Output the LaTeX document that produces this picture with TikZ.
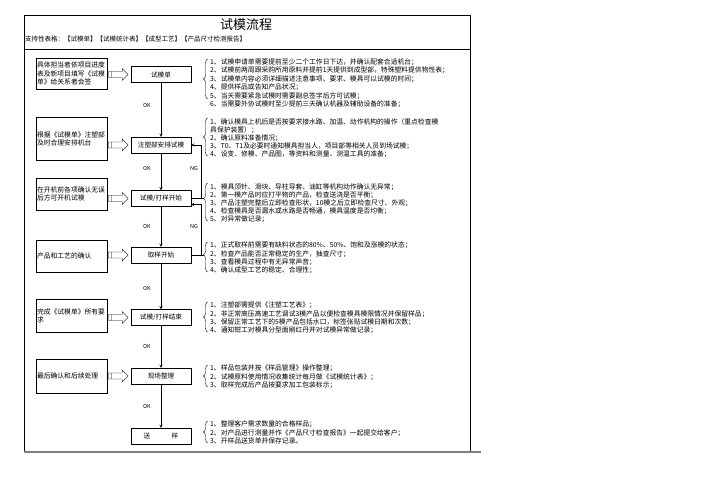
\documentclass[tikz,border=0pt]{standalone}
\usepackage{fontspec}
\newfontfamily\cjk{Noto Sans CJK SC}
\usetikzlibrary{arrows,positioning,decorations.pathreplacing,calc}

\begin{document}
\begin{tikzpicture}[
x=1pt, y=-1pt, >=stealth,
font=\cjk\fontsize{6.8}{8.2}\selectfont,
mbox/.style={draw, minimum width=60pt, minimum height=16pt, inner sep=0pt,
  font=\cjk\fontsize{6.6}{8}\selectfont},
lbox/.style={draw, text width=69pt, inner xsep=1pt, inner ysep=0pt, align=left},
note/.style={anchor=north west, align=left, inner sep=0pt},
oklbl/.style={left=10pt, inner sep=0pt, font=\cjk\fontsize{5.5}{6}\selectfont},
nglbl/.style={left=3pt, inner sep=0pt, font=\cjk\fontsize{5.5}{6}\selectfont},
curly/.style={decorate, decoration={brace, amplitude=4pt}},
hollow/.pic={\draw (0,-3) -- (14,-3) -- (14,-6) -- (20,0) -- (14,6) -- (14,3) -- (0,3) -- cycle
  (3,-3) -- (3,3);}]
    \useasboundingbox (0,0) rectangle (708,500);

    % Frame and heading
    \draw (24,452) -- (24,15) -- (470,15) -- (470,452);
    \draw (24,49) -- (470,49);
    \draw[gray, line width=1.2pt] (24,452) -- (481,452);
    \node[font=\cjk\fontsize{13}{15}\selectfont] (title) at (246,25) {试模流程};
    \node[anchor=west, inner sep=0pt, font=\cjk\fontsize{6.5}{8}\selectfont] (support) at (25,39)
        {支持性表格：【试模单】【试模统计表】【成型工艺】【产品尺寸检测报告】};

    % Main steps
    \node[mbox] (slip) at (161,74.5) {试模单};
    \node[mbox] (arrange) at (161,145) {注塑部安排试模};
    \node[mbox] (trial) at (161,198.5) {试模/打样开始};
    \node[mbox] (sample) at (161,255) {取样开始};
    \node[mbox] (finish) at (161,317.5) {试模/打样结束};
    \node[mbox] (tidy) at (161,376) {现场整理};
    \node[mbox] (send) at (161,436) {送\hspace{21.4pt}样\hspace{12pt}};

    % Left side remarks
    \node[lbox, minimum height=31pt] (who) at (71.5,73.5)
        {具体担当者依项目进度\\表及新项目填写《试模\\单》给关系者会签};
    \node[lbox, minimum height=43pt] (plan) at (71.5,138.5)
        {根据《试模单》注塑部\\及时合理安排机台};
    \node[lbox, minimum height=32pt] (check) at (71.5,194)
        {在开机前各项确认无误\\后方可开机试模};
    \node[lbox, minimum height=32pt] (confirm) at (71.5,256)
        {产品和工艺的确认};
    \node[lbox, minimum height=33pt] (done) at (71.5,315.5)
        {完成《试模单》所有要\\求};
    \node[lbox, minimum height=34pt] (follow) at (71.5,376)
        {最后确认和后续处理};

    \pic at ($(who.east |- slip.west)+(1,0)$) {hollow};
    \pic at ($(plan.east |- arrange.west)+(1,0)$) {hollow};
    \pic at ($(check.east |- trial.west)+(1,0)$) {hollow};
    \pic at ($(confirm.east |- sample.west)+(1,0)$) {hollow};
    \pic at ($(done.east |- finish.west)+(1,0)$) {hollow};
    \pic at ($(follow.east |- tidy.west)+(1,0)$) {hollow};

    % Flow
    \draw[->] (slip) -- node[oklbl, pos=0.42] (ok1) {OK} (arrange);
    \draw[->] (arrange) -- node[oklbl, pos=0.4] (ok2) {OK} (trial);
    \draw[->] (trial) -- node[oklbl, pos=0.49] (ok3) {OK} (sample);
    \draw[->] (sample) -- node[oklbl, pos=0.55] (ok4) {OK} (finish);
    \draw[->] (finish) -- node[oklbl, pos=0.5] (ok5) {OK} (tidy);
    \draw[->] (tidy) -- node[oklbl, pos=0.52] (ok6) {OK} (send);

    \coordinate (tip3) at (203.5,198.5);
    \coordinate (tip4) at (203.5,255);
    \draw (trial.east) -- (tip3);
    \draw (sample.east) -- (tip4);
    \draw[->] (trial.east) -- ++(10,0) |- node[nglbl, pos=0.28] (ng1) {NG} (arrange.east);
    \draw[->] (sample.east) -- ++(10,0) |- node[nglbl, pos=0.28] (ng2) {NG} ($(trial.east)+(0,6)$);

    % Notes
    \draw[curly] (207.5,99) -- (207.5,59);
    \node[note, font=\cjk\fontsize{6.8}{8.5}\selectfont] (n1) at (210,58.5)
        {1、试模申请单需要提前至少二个工作日下达，并确认配套合适机台；\\
         2、试模前两周跟采购所用原料并提前1天提供到成型部，特殊塑料提供物性表；\\
         3、试模单内容必须详细描述注意事项、要求、模具可以试模的时间；\\
         4、提供样品或告知产品状况；\\
         5、当天需要紧急试模时需要副总签字后方可试模；\\
         6、当需要外协试模时至少提前三天确认机器及辅助设备的准备；};

    \draw[curly] (207.5,156) -- (207.5,118);
    \node[note] (n2) at (210,118)
        {1、确认模具上机后是否按要求接水路、加温、动作机构的操作（重点检查模\\
         具保护装置）；\\
         2、确认原料准备情况；\\
         3、T0、T1及必要时通知模具担当人，项目部等相关人员到场试模；\\
         4、设变、修模、产品图，等资料和测量、测温工具的准备；};

    \draw[curly, decoration={aspect=0.59}] (207.5,221) -- (207.5,183);
    \node[note] (n3) at (210,183)
        {1、模具顶针、滑块、导柱导套、油缸等机构动作确认无异常；\\
         2、第一模产品时应打平物的产品，检查送浇是否平衡；\\
         3、产品注塑完整后立即检查形状，10模之后立即检查尺寸、外观；\\
         4、检查模具是否漏水或水路是否畅通，模具温度是否均衡；\\
         5、对异常做记录；};

    \draw[curly, decoration={aspect=0.57}] (207.5,272) -- (207.5,242);
    \node[note] (n4) at (210,242)
        {1、正式取样前需要有缺料状态的80\%、50\%、饱和及涨模的状态；\\
         2、检查产品能否正常稳定的生产，抽查尺寸；\\
         3、查看模具过程中有无异常声音；\\
         4、确认成型工艺的稳定、合理性；};

    \draw[curly] (207.5,332) -- (207.5,302);
    \node[note] (n5) at (210,302)
        {1、注塑部需提供《注塑工艺表》；\\
         2、非正常高压高速工艺调试3模产品以便检查模具模限情况并保留样品；\\
         3、保留正常工艺下的5模产品包括水口，标签张贴试模日期和次数；\\
         4、通知钳工对模具分型面刷红丹并对试模异常做记录；};

    \draw[curly] (207.5,387) -- (207.5,365);
    \node[note] (n6) at (210,365)
        {1、样品包装并按《样品管理》操作整理；\\
         2、试模原料使用情况收集统计每月做《试模统计表》；\\
         3、取样完成后产品按要求加工包装标示；};

    \draw[curly] (207.5,443) -- (207.5,421);
    \node[note] (n7) at (210,421)
        {1、整理客户需求数量的合格样品；\\
         2、对产品进行测量并作《产品尺寸检查报告》一起提交给客户；\\
         3、开样品送货单并保存记录。};

\end{tikzpicture}
\end{document}
